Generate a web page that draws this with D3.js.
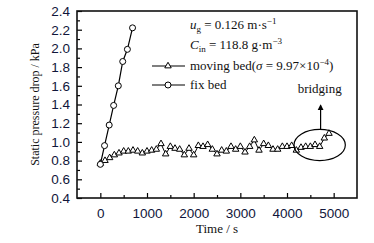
<!DOCTYPE html>
<html>
<head>
<meta charset="utf-8">
<script src="https://cdn.jsdelivr.net/npm/d3@7"></script>
<style>
  body { margin: 0; background: #fff; }
  svg { display: block; font-family: "Liberation Serif", "Times New Roman", serif; }
  .tick text { font-size: 13.5px; fill: #10163a; }
  .domain { display: none; }
</style>
</head>
<body>
<div id="chart"></div>
<script>
const width = 374, height = 243;

// fix bed series
const fixTime = [0, 90, 190, 285, 385, 480, 580, 690];
const fixDrop = [0.76, 0.96, 1.18, 1.39, 1.60, 1.86, 1.99, 2.22];

// moving bed series (every 100 s)
const movTime = d3.range(0, 5000, 100);
const movDrop = [0.77, 0.80, 0.83, 0.86, 0.88, 0.90, 0.90, 0.91, 0.90, 0.88,
                 0.90, 0.91, 0.92, 0.98, 0.87, 0.95, 0.93, 0.92, 0.86, 0.93,
                 0.86, 0.96, 0.95, 0.97, 0.92, 0.87, 0.91, 0.90, 0.95, 0.92,
                 0.95, 0.89, 0.95, 1.02, 0.91, 0.98, 0.96, 0.92, 0.92, 0.95,
                 0.95, 0.96, 0.91, 0.94, 0.95, 0.95, 0.97, 0.95, 1.04, 1.09];

const xTicks = [0, 1000, 2000, 3000, 4000, 5000];
const xMinor = [500, 1500, 2500, 3500, 4500];
const yTicks = [0.4, 0.6, 0.8, 1.0, 1.2, 1.4, 1.6, 1.8, 2.0, 2.2, 2.4];
const yMinor = [0.5, 0.7, 0.9, 1.1, 1.3, 1.5, 1.7, 1.9, 2.1, 2.3];

const plot = { left: 77, right: 357, top: 11, bottom: 198 };

const svg = d3.select("#chart").append("svg")
  .attr("width", width).attr("height", height);

const x = d3.scaleLinear().domain([-500, 5500]).range([plot.left, plot.right]);
const y = d3.scaleLinear().domain([0.4, 2.4]).range([plot.bottom, plot.top]);

// bottom axis, ticks pointing inward
svg.append("g")
  .attr("transform", `translate(0,${plot.bottom})`)
  .call(d3.axisBottom(x).tickValues(xTicks).tickSize(-5).tickPadding(10).tickFormat(d3.format("d")))
  .call(g => g.selectAll(".tick line").attr("stroke", "#000").attr("stroke-width", 1.2));
svg.append("g")
  .attr("transform", `translate(0,${plot.bottom})`)
  .call(d3.axisBottom(x).tickValues(xMinor).tickSize(-3).tickFormat(""))
  .call(g => g.selectAll(".tick line").attr("stroke", "#000").attr("stroke-width", 1.2));

// left axis
svg.append("g")
  .attr("transform", `translate(${plot.left},0)`)
  .call(d3.axisLeft(y).tickValues(yTicks).tickSize(-5).tickPadding(7).tickFormat(d3.format(".1f")))
  .call(g => g.selectAll(".tick line").attr("stroke", "#000").attr("stroke-width", 1.2));
svg.append("g")
  .attr("transform", `translate(${plot.left},0)`)
  .call(d3.axisLeft(y).tickValues(yMinor).tickSize(-3).tickFormat(""))
  .call(g => g.selectAll(".tick line").attr("stroke", "#000").attr("stroke-width", 1.2));

// frame
svg.append("rect")
  .attr("x", plot.left).attr("y", plot.top)
  .attr("width", plot.right - plot.left).attr("height", plot.bottom - plot.top)
  .attr("fill", "none").attr("stroke", "#111").attr("stroke-width", 1.6);

// axis labels
svg.append("text")
  .text("Time / s")
  .attr("x", x(2500)).attr("y", 233)
  .attr("text-anchor", "middle").attr("font-size", 13).attr("fill", "#111");
svg.append("text")
  .text("Static pressure drop / kPa")
  .attr("transform", `translate(39,${y(1.4)}) rotate(-90)`)
  .attr("text-anchor", "middle").attr("font-size", 12).attr("fill", "#111");

const line = d3.line().x(d => x(d[0])).y(d => y(d[1]));
const movData = movTime.map((t, i) => [t, movDrop[i]]);
const fixData = fixTime.map((t, i) => [t, fixDrop[i]]);

const tri = d3.symbol().type(d3.symbolTriangle).size(18);

// moving bed
svg.append("path").datum(movData)
  .attr("d", line).attr("fill", "none").attr("stroke", "#000").attr("stroke-width", 1);
svg.selectAll(".tri").data(movData).join("path")
  .attr("class", "tri")
  .attr("d", tri)
  .attr("transform", d => `translate(${x(d[0])},${y(d[1])})`)
  .attr("fill", "#fff").attr("stroke", "#000").attr("stroke-width", 1);

// fix bed
svg.append("path").datum(fixData)
  .attr("d", line).attr("fill", "none").attr("stroke", "#000").attr("stroke-width", 1.2);
svg.selectAll(".circ").data(fixData).join("circle")
  .attr("class", "circ")
  .attr("cx", d => x(d[0])).attr("cy", d => y(d[1])).attr("r", 3)
  .attr("fill", "#fff").attr("stroke", "#000").attr("stroke-width", 1);

// bridging ellipse + arrow
const ell = { cx: 4700, cy: 0.967, rx: 550, ry: 0.167 };
svg.append("ellipse")
  .attr("cx", x(ell.cx)).attr("cy", y(ell.cy))
  .attr("rx", x(ell.cx + ell.rx) - x(ell.cx)).attr("ry", y(ell.cy - ell.ry) - y(ell.cy))
  .attr("fill", "none").attr("stroke", "#000").attr("stroke-width", 1.2);
svg.append("defs").append("marker")
  .attr("id", "arrow").attr("viewBox", "0 0 10 10")
  .attr("refX", 8).attr("refY", 5).attr("markerWidth", 5).attr("markerHeight", 6)
  .attr("orient", "auto")
  .append("path").attr("d", "M0,0L10,5L0,10z").attr("fill", "#000");
svg.append("line")
  .attr("x1", x(4720)).attr("x2", x(4720))
  .attr("y1", y(ell.cy + ell.ry)).attr("y2", y(1.39))
  .attr("stroke", "#000").attr("stroke-width", 1.2)
  .attr("marker-end", "url(#arrow)");
svg.append("text")
  .text("bridging")
  .attr("x", x(4700)).attr("y", y(1.52))
  .attr("text-anchor", "middle").attr("font-size", 13).attr("fill", "#111");

// legend
const lg = svg.append("g").attr("font-size", 13).attr("fill", "#111");
const t1 = lg.append("text").attr("x", 190).attr("y", 29);
t1.append("tspan").attr("font-style", "italic").text("u");
t1.append("tspan").attr("font-size", 9).attr("dy", 3).text("g");
t1.append("tspan").attr("dy", -3).text(" = 0.126 m·s");
t1.append("tspan").attr("font-size", 9).attr("dy", -5).text("−1");

const t2 = lg.append("text").attr("x", 190).attr("y", 49);
t2.append("tspan").attr("font-style", "italic").text("C");
t2.append("tspan").attr("font-size", 9).attr("dy", 3).text("in");
t2.append("tspan").attr("dy", -3).text(" = 118.8 g·m");
t2.append("tspan").attr("font-size", 9).attr("dy", -5).text("−3");

const t3 = lg.append("text").attr("x", 190).attr("y", 70);
t3.append("tspan").text("moving bed(");
t3.append("tspan").attr("font-style", "italic").text("σ");
t3.append("tspan").text(" = 9.97×10");
t3.append("tspan").attr("font-size", 9).attr("dy", -5).text("−4");
t3.append("tspan").attr("dy", 5).text(")");

lg.append("text").attr("x", 190).attr("y", 89).text("fix bed");

lg.append("line").attr("x1", 152).attr("x2", 185).attr("y1", 66).attr("y2", 66)
  .attr("stroke", "#000").attr("stroke-width", 1.2);
lg.append("path").attr("d", tri).attr("transform", "translate(168,66)")
  .attr("fill", "#fff").attr("stroke", "#000");
lg.append("line").attr("x1", 152).attr("x2", 185).attr("y1", 85).attr("y2", 85)
  .attr("stroke", "#000").attr("stroke-width", 1.2);
lg.append("circle").attr("cx", 168).attr("cy", 85).attr("r", 3)
  .attr("fill", "#fff").attr("stroke", "#000");
</script>
</body>
</html>
